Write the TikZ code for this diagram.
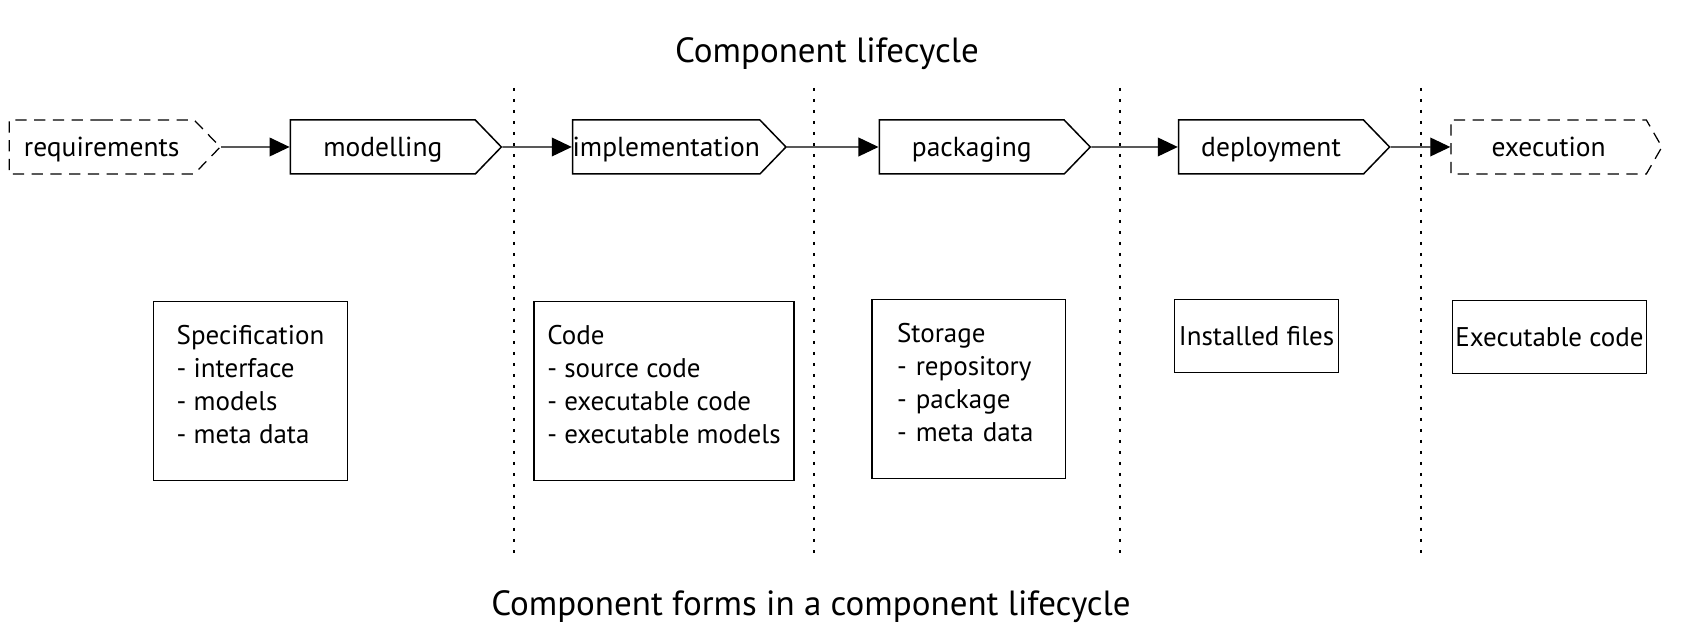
\documentclass[tikz,border=0pt]{standalone}
\usepackage{fontspec}
\setmainfont{PT Sans}
\usetikzlibrary{arrows.meta,shapes.symbols}
\newcommand{\lowstrut}{\rule[-5.2pt]{0pt}{1pt}}

\begin{document}
\begin{tikzpicture}[x=0.4pt,y=-0.4pt,>={Triangle[length=8pt,width=7.5pt]},
		stage/.style={draw,line width=0.6pt,shape=signal,signal to=east,signal pointer angle=92,
			minimum width=84.4pt,minimum height=21.6pt,inner xsep=0pt,anchor=west,
			text height=8pt,text depth=0.5pt,font=\fontsize{11}{13}\selectfont},
		openstage/.style={stage,line width=0.5pt,dash pattern=on 4.5pt off 3pt},
		form/.style={draw,line width=0.6pt,align=left,font=\fontsize{10.8}{13.3}\selectfont},
		divider/.style={line width=0.6pt,dash pattern=on 1.2pt off 3.2pt},
		title/.style={font=\fontsize{14}{17}\selectfont}]
		\useasboundingbox (0,0) rectangle (1682,644);

		\node[title] (lifecycle) at (827,54) {Component lifecycle};
		\node[title] (forms) at (811,607) {Component forms in a component lifecycle};

		% phases of the lifecycle
		\node[openstage] (requirements) at (8.6,147) {requirements};
		\node[stage] (modelling) at (289.6,147) {modelling};
		\node[stage] (implementation) at (571.8,147) {implementation};
		\node[stage] (packaging) at (878.5,147) {packaging};
		\node[stage] (deployment) at (1177.8,147) {deployment};
		\node[openstage,signal pointer angle=120] (execution) at (1450.3,147) {execution};

		\path[->,line width=0.5pt]
			(requirements) edge (modelling)
			(modelling) edge (implementation)
			(implementation) edge (packaging)
			(packaging) edge (deployment)
			(deployment) edge (execution);

		\foreach \x in {514,814,1120,1421}
			\draw[divider] (\x,88) -- (\x,553);

		% forms of the component
		\node[form,minimum width=77.7pt,minimum height=71.7pt] (specification) at (250.5,391)
			{Specification\\- interface\\- models\\- meta data\lowstrut};
		\node[form,minimum width=104pt,minimum height=71.7pt] (code) at (664,391)
			{Code\\- source code\\- executable code\\- executable models\lowstrut};
		\node[form,text width=57.3pt,inner xsep=10pt,minimum height=71.7pt] (storage) at (968.7,389)
			{Storage\\- repository\\- package\\- meta data\lowstrut};
		\node[form,minimum width=65.6pt,minimum height=29.2pt,inner xsep=1pt] (installed) at (1256.6,336)
			{Installed files};
		\node[form,minimum width=77.7pt,minimum height=29.2pt,inner xsep=1pt] (executable) at (1549.5,337)
			{Executable code};
	\end{tikzpicture}
\end{document}
